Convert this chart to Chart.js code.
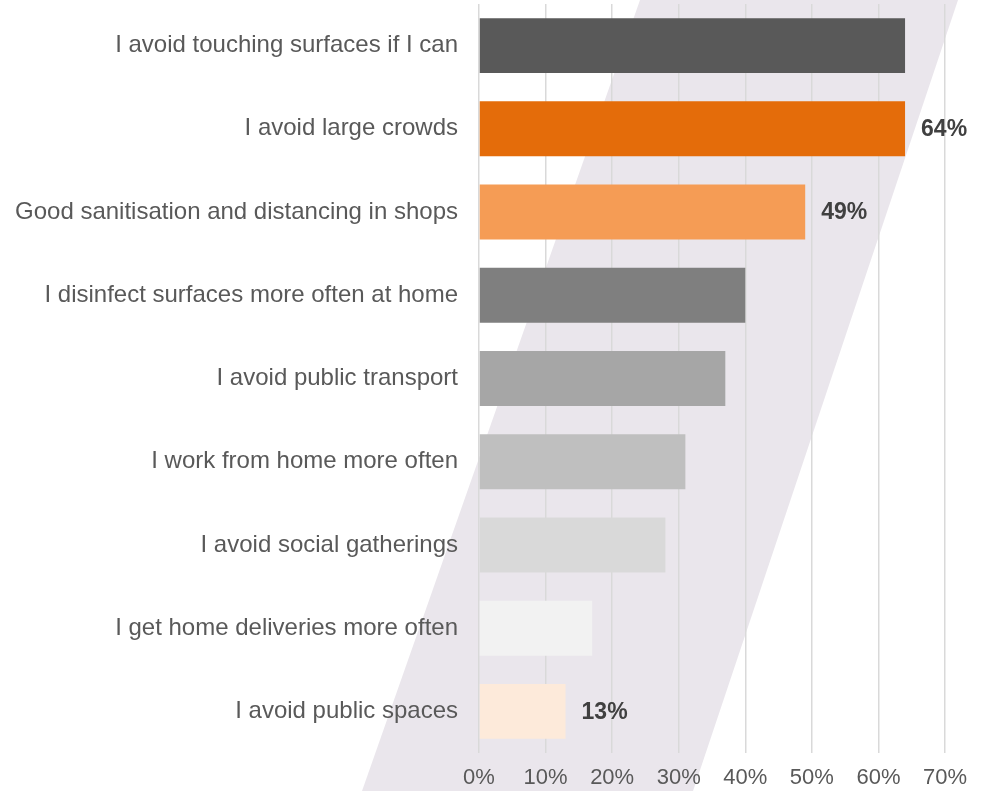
<!DOCTYPE html>
<html>
<head>
	<meta charset="utf-8">
	<title>Behaviour changes</title>
	<script src="https://cdn.jsdelivr.net/npm/chart.js@4.4.1/dist/chart.umd.min.js"></script>
	<style>
		html, body { margin: 0; padding: 0; background: #fff; }
		#wrap { width: 985px; height: 791px; }
	</style>
</head>
<body>
<div id="wrap"><canvas id="graph"></canvas></div>
<script>
	const categories = [
		'I avoid touching surfaces if I can',
		'I avoid large crowds',
		'Good sanitisation and distancing in shops',
		'I disinfect surfaces more often at home',
		'I avoid public transport',
		'I work from home more often',
		'I avoid social gatherings',
		'I get home deliveries more often',
		'I avoid public spaces'
	];
	const values = [64, 64, 49, 40, 37, 31, 28, 17, 13];
	const valueLabels = ['', '64%', '49%', '', '', '', '', '', '13%'];
	const barColors = ['#595959', '#e46c0a', '#f59c55', '#7f7f7f', '#a6a6a6', '#bfbfbf', '#d9d9d9', '#f2f2f2', '#fdeada'];
	const xTicks = [0, 10, 20, 30, 40, 50, 60, 70];

	// lavender diagonal band behind the chart
	const backdrop = {
		id: 'backdrop',
		beforeDraw(chart) {
			const c = chart.ctx;
			c.save();
			c.fillStyle = '#eae6ec';
			c.beginPath();
			c.moveTo(640, 0);
			c.lineTo(958, 0);
			c.lineTo(693, 791);
			c.lineTo(362, 791);
			c.closePath();
			c.fill();
			c.restore();
		}
	};

	const barLabels = {
		id: 'barLabels',
		afterDatasetsDraw(chart) {
			const c = chart.ctx;
			const meta = chart.getDatasetMeta(0);
			c.save();
			c.font = 'bold 23px "Liberation Sans", Arial, sans-serif';
			c.fillStyle = '#404040';
			c.textAlign = 'left';
			c.textBaseline = 'middle';
			meta.data.forEach((bar, i) => {
				if (!valueLabels[i]) {
					return;
				}
				c.fillText(valueLabels[i], bar.x + 16, bar.y + 1);
			});
			c.restore();
		}
	};

	(function() {
		const ctx = document.getElementById('graph').getContext('2d');

		new Chart(ctx, {
			type: 'bar',
			data: {
				labels: categories,
				datasets: [{
					data: values,
					backgroundColor: barColors,
					barPercentage: 0.66,
					categoryPercentage: 1
				}]
			},
			options: {
				indexAxis: 'y',
				responsive: true,
				maintainAspectRatio: false,
				animation: false,
				layout: { padding: { top: 4, right: 40, bottom: 0, left: 0 } },
				plugins: {
					legend: { display: false },
					tooltip: { enabled: false }
				},
				scales: {
					x: {
						min: 0,
						max: 70,
						afterBuildTicks(axis) {
							axis.ticks = xTicks.map(v => ({ value: v }));
						},
						afterFit(axis) {
							axis.height = 38;
							axis.paddingBottom = 0;
						},
						grid: { color: '#d9d9d9', lineWidth: 1.5, drawTicks: false },
						border: { display: false },
						ticks: {
							padding: 12,
							color: '#595959',
							font: { family: '"Liberation Sans", Arial, sans-serif', size: 22 },
							callback: v => v + '%'
						}
					},
					y: {
						grid: { display: false },
						border: { display: false },
						afterFit(axis) {
							axis.width = 479;
							axis.paddingTop = 0;
							axis.paddingBottom = 0;
						},
						ticks: {
							padding: 13,
							color: '#595959',
							font: { family: '"Liberation Sans", Arial, sans-serif', size: 24 }
						}
					}
				}
			},
			plugins: [backdrop, barLabels]
		});
	})();
</script>
</body>
</html>
